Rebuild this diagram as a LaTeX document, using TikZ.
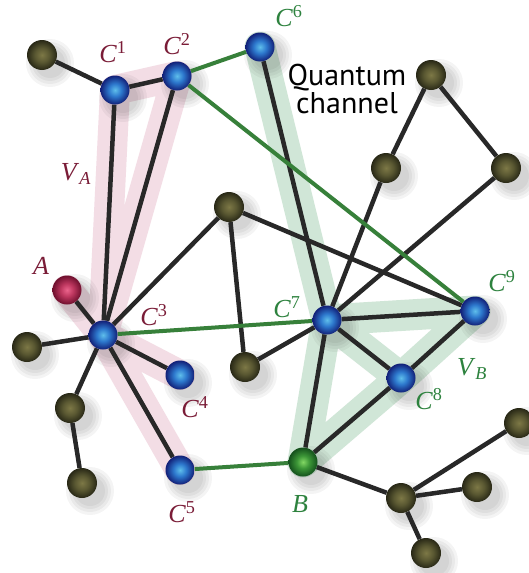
\documentclass[tikz,border=0pt]{standalone}
\usepackage{fontspec}
\setmainfont{Liberation Serif}
\newfontfamily\qfont{PT Sans}
\definecolor{bl1}{RGB}{95,190,235}
\definecolor{bl2}{RGB}{45,120,205}
\definecolor{bl3}{RGB}{18,32,120}
\definecolor{ol1}{RGB}{125,120,70}
\definecolor{ol2}{RGB}{90,88,50}
\definecolor{ol3}{RGB}{40,40,22}
\definecolor{rd1}{RGB}{235,100,140}
\definecolor{rd2}{RGB}{190,55,95}
\definecolor{rd3}{RGB}{110,15,45}
\definecolor{gn1}{RGB}{130,215,100}
\definecolor{gn2}{RGB}{60,150,55}
\definecolor{gn3}{RGB}{20,80,28}
\definecolor{edgeblack}{RGB}{40,40,40}
\definecolor{edgegreen}{RGB}{55,128,58}
\definecolor{pinkband}{RGB}{243,221,229}
\definecolor{greenband}{RGB}{208,230,215}
\definecolor{maroon}{RGB}{122,28,55}
\definecolor{labgreen}{RGB}{45,130,62}
\pgfdeclareradialshading{bluesh}{\pgfpoint{0bp}{0bp}}{color(0bp)=(bl1); color(11bp)=(bl2); color(25bp)=(bl3); color(50bp)=(bl3)}
\pgfdeclareradialshading{olivesh}{\pgfpoint{0bp}{0bp}}{color(0bp)=(ol1); color(12bp)=(ol2); color(25bp)=(ol3); color(50bp)=(ol3)}
\pgfdeclareradialshading{redsh}{\pgfpoint{0bp}{0bp}}{color(0bp)=(rd1); color(11bp)=(rd2); color(25bp)=(rd3); color(50bp)=(rd3)}
\pgfdeclareradialshading{greensh}{\pgfpoint{0bp}{0bp}}{color(0bp)=(gn1); color(11bp)=(gn2); color(25bp)=(gn3); color(50bp)=(gn3)}
\pgfdeclarelayer{bandlayer}
\pgfdeclarelayer{shadowlayer}
\pgfdeclarelayer{edgelayer}
\pgfsetlayers{bandlayer,shadowlayer,edgelayer,main}
\tikzset{
  nd/.style={circle, inner sep=0pt, minimum size=29pt, shade},
  bluen/.style={nd, shading=bluesh},
  oliven/.style={nd, minimum size=30pt, shading=olivesh},
  redn/.style={nd, shading=redsh},
  greenn/.style={nd, shading=greensh},
  blk/.style={draw=edgeblack, line width=4.5pt},
  grn/.style={draw=edgegreen, line width=4pt},
  pband/.style={draw=pinkband, line width=30pt, line cap=round, line join=round},
  gband/.style={draw=greenband, line width=31pt, line cap=round, line join=round},
  lab/.style={inner sep=0pt, font=\fontsize{26}{28}\selectfont},
  mlab/.style={lab, text=maroon},
  glab/.style={lab, text=labgreen},
}
\begin{document}
\begin{tikzpicture}[x=1pt,y=-1pt]
\useasboundingbox (0,0) rectangle (528,573);
% nodes
\node[oliven] (n1) at (42,55) {};
\node[oliven] (n2) at (431,75) {};
\node[oliven] (n3) at (386,168) {};
\node[oliven] (n4) at (506,168) {};
\node[oliven] (n5) at (229,207) {};
\node[oliven] (n6) at (245,367) {};
\node[oliven] (n7) at (27,347) {};
\node[oliven] (n8) at (70,408) {};
\node[oliven] (n9) at (82,483) {};
\node[oliven] (n10) at (401,498) {};
\node[oliven] (n11) at (519,423) {};
\node[oliven] (n12) at (477,487) {};
\node[oliven] (n13) at (426,553) {};
\node[bluen] (c1) at (115,90) {};
\node[bluen] (c2) at (177,76) {};
\node[bluen] (c3) at (103,335) {};
\node[bluen] (c4) at (180,375) {};
\node[bluen] (c5) at (180,470) {};
\node[bluen] (c6) at (260,47) {};
\node[bluen] (c7) at (327,320) {};
\node[bluen] (c8) at (401,378) {};
\node[bluen] (c9) at (475,311) {};
\node[redn] (a) at (67,290) {};
\node[greenn] (b) at (303,462) {};
% background and bands
\begin{pgfonlayer}{bandlayer}
\fill[white] (0,0) rectangle (528,573);
\draw[pband] (c1.center) -- (c2.center) -- (c3.center) -- cycle;
\draw[pband] (a.center) -- (c3.center) -- (c5.center);
\draw[pband] (c3.center) -- (c4.center);
\draw[gband] (c6.center) -- (c7.center) -- (b.center) -- (c8.center) -- (c9.center) -- (c7.center) -- (c8.center);
\end{pgfonlayer}
% shadows
\begin{pgfonlayer}{shadowlayer}
\foreach \n in {n1,n2,n3,n4,n5,n6,n7,n8,n9,n10,n11,n12,n13,c1,c2,c3,c4,c5,c6,c7,c8,c9,a,b}{
  \foreach \r in {24,21,18,15}{
    \fill[black, opacity=0.045] ([shift={(8,8)}]\n.center) circle (\r);
  }
}
\end{pgfonlayer}
% edges
\begin{pgfonlayer}{edgelayer}
\draw[blk] (n1) -- (c1);
\draw[blk] (c1) -- (c2);
\draw[blk] (c1) -- (c3);
\draw[blk] (c2) -- (c3);
\draw[blk] (c6) -- (c7);
\draw[blk] (n2) -- (n3);
\draw[blk] (n2) -- (n4);
\draw[blk] (n3) -- (c7);
\draw[blk] (n4) -- (c7);
\draw[blk] (n5) -- (c3);
\draw[blk] (n5) -- (n6);
\draw[blk] (n5) -- (c9);
\draw[blk] (n6) -- (c7);
\draw[blk] (a) -- (c3);
\draw[blk] (c3) -- (n7);
\draw[blk] (c3) -- (n8);
\draw[blk] (n8) -- (n9);
\draw[blk] (c3) -- (c4);
\draw[blk] (c3) -- (c5);
\draw[blk] (c7) -- (c9);
\draw[blk] (c7) -- (c8);
\draw[blk] (c7) -- (b);
\draw[blk] (c8) -- (c9);
\draw[blk] (c8) -- (b);
\draw[blk] (b) -- (n10);
\draw[blk] (n10) -- (n11);
\draw[blk] (n10) -- (n12);
\draw[blk] (n10) -- (n13);
\draw[grn] (c2) -- (c6);
\draw[grn] (c2) -- (c9);
\draw[grn] (c3) -- (c7);
\draw[grn] (c5) -- (b);
\end{pgfonlayer}
% labels
\node[mlab] (lc1) at (113,52) {\textit{C}\textsuperscript{1}};
\node[mlab] (lc2) at (177,44) {\textit{C}\textsuperscript{2}};
\node[mlab] (lc3) at (154,315) {\textit{C}\textsuperscript{3}};
\node[mlab] (lc4) at (195,407) {\textit{C}\textsuperscript{4}};
\node[mlab] (lc5) at (182,512) {\textit{C}\textsuperscript{5}};
\node[mlab] (la) at (41,266) {\textit{A}};
\node[mlab] (lva) at (76,174) {\textit{V}\textsubscript{\textit{A}}};
\node[glab] (lc6) at (289,16) {\textit{C}\textsuperscript{6}};
\node[glab] (lc7) at (287,307) {\textit{C}\textsuperscript{7}};
\node[glab] (lc8) at (429,399) {\textit{C}\textsuperscript{8}};
\node[glab] (lc9) at (502,281) {\textit{C}\textsuperscript{9}};
\node[glab] (lvb) at (472,369) {\textit{V}\textsubscript{\textit{B}}};
\node[glab] (lb) at (300,504) {\textit{B}};
\node[inner sep=0pt, align=center, font=\qfont\fontsize{30}{28}\selectfont] (qc) at (347,89) {Quantum\\channel};
\end{tikzpicture}
\end{document}
